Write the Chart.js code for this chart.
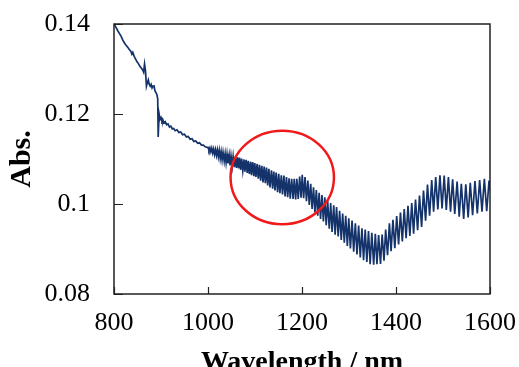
<!DOCTYPE html>
<html>
<head>
<meta charset="utf-8">
<title>Abs. vs Wavelength</title>
<script src="https://cdn.jsdelivr.net/npm/chart.js@4.4.0/dist/chart.umd.min.js"></script>
<style>
    body { margin: 0; background: #fff; }
    #chart-box { width: 519px; height: 367px; }
</style>
</head>
<body>
<div id="chart-box"><canvas id="absChart" width="519" height="367"></canvas></div>
<script>
// Spectrum: wavelength (nm) and absorbance
const wavelengths = [
    800, 804, 808, 812, 815, 818, 821, 824, 827, 830, 833, 836, 838, 840, 843, 846, 849, 852, 855, 858,
    861, 863, 865, 867, 869, 871, 873, 875, 877, 879, 881, 883, 885, 887, 889, 891, 893, 894, 896, 898,
    900, 902, 904, 906, 909, 912, 915, 918, 921, 924, 927, 930, 934, 938, 942, 946, 950, 954, 958, 962,
    966, 970, 974, 978, 982, 986, 990, 994, 998,
    1000, 1002, 1004, 1006, 1008, 1010, 1012, 1014, 1016, 1018, 1020, 1022, 1024, 1026, 1028, 1030, 1032,
    1034.5, 1036.5, 1038.5, 1040.5, 1042.5, 1045, 1047, 1049,
    1051.5, 1053.5, 1056, 1058, 1060.5, 1062.5, 1065, 1067, 1069.5, 1071.5, 1074,
    1076.5, 1078.5, 1081, 1083.5, 1085.5, 1088, 1090.5, 1092.5, 1095, 1097.5, 1099.5,
    1102, 1104.5, 1107, 1109.5, 1112, 1114.5, 1117, 1119.5, 1122, 1124.5,
    1127, 1129.5, 1132, 1135, 1137.5, 1140, 1142.5, 1145, 1148,
    1150.5, 1153, 1156, 1158.5, 1161.5, 1164, 1167, 1169.5, 1172.5,
    1175, 1178, 1181, 1183.5, 1186.5, 1189,
    1192, 1195, 1198, 1200.5, 1203.5, 1206.5, 1209.5,
    1212.5, 1215.5, 1218.5, 1221.5, 1224.5,
    1227.5, 1230.5, 1233.5, 1236.5, 1239.5, 1242.5, 1245.5, 1248.5,
    1251.5, 1254.5, 1258, 1261, 1264, 1267.5, 1270.5, 1273.5,
    1277, 1280, 1283.5, 1286.5, 1290, 1293, 1296.5, 1299.5,
    1303, 1306.5, 1310, 1313.5, 1317, 1320.5, 1324,
    1327.5, 1331, 1334.5, 1338, 1341.5, 1345,
    1348.5, 1352.5, 1356, 1359.5, 1363, 1367,
    1370.5, 1374.5, 1378, 1382, 1386, 1389.5, 1393.5, 1397.5,
    1401.5, 1405.5, 1409.5, 1413.5, 1417.5,
    1421.5, 1425.5, 1429.5, 1433.5, 1437.5,
    1441.5, 1446, 1450, 1454.5, 1458.5, 1463, 1467, 1471.5, 1476, 1480,
    1484.5, 1489, 1493.5, 1498, 1502.5, 1507, 1511.5,
    1516, 1520.5, 1525, 1530, 1534.5, 1539,
    1544, 1548.5, 1553.5, 1558, 1563,
    1568, 1573, 1578, 1583, 1588, 1593, 1598, 1600
];

const absorbance = [
    0.1400, 0.1393, 0.1385, 0.1378, 0.1373, 0.1366, 0.1360, 0.1355, 0.1351, 0.1347, 0.1343, 0.1339, 0.1333, 0.1337, 0.1328, 0.1322, 0.1316, 0.1312, 0.1306, 0.1302,
    0.1298, 0.1293, 0.1311, 0.1296, 0.1262, 0.1270, 0.1276, 0.1266, 0.1262, 0.1266, 0.1258, 0.1262, 0.1264, 0.1252, 0.1248, 0.1244, 0.1234, 0.1149, 0.1200, 0.1188,
    0.1192, 0.1184, 0.1187, 0.1180, 0.1183, 0.1176, 0.1178, 0.1171, 0.1173, 0.1167, 0.1168, 0.1163, 0.1165, 0.1159, 0.1160, 0.1154, 0.1155, 0.1149, 0.1150, 0.1144,
    0.1145, 0.1139, 0.1140, 0.1135, 0.1136, 0.1131, 0.1131, 0.1127, 0.1126,
    0.1126, 0.1119, 0.1125, 0.1116, 0.1124, 0.1113, 0.1122, 0.1110, 0.1121, 0.1108, 0.1120, 0.1105, 0.1119, 0.1101, 0.1116, 0.1098, 0.1115,
    0.1095, 0.1112, 0.1092, 0.1111, 0.1090, 0.1109, 0.1086, 0.1107,
    0.1084, 0.1106, 0.1082, 0.1105, 0.1080, 0.1104, 0.1079, 0.1103, 0.1076, 0.1101, 0.1074,
    0.1099, 0.1072, 0.1098, 0.1069, 0.1096, 0.1067, 0.1094, 0.1064, 0.1093, 0.1062, 0.1091,
    0.1060, 0.1089, 0.1056, 0.1087, 0.1052, 0.1085, 0.1048, 0.1083, 0.1046, 0.1081,
    0.1041, 0.1078, 0.1037, 0.1075, 0.1034, 0.1072, 0.1030, 0.1070, 0.1026,
    0.1067, 0.1024, 0.1064, 0.1021, 0.1063, 0.1017, 0.1060, 0.1015, 0.1057,
    0.1012, 0.1056, 0.1011, 0.1056, 0.1010, 0.1056,
    0.1011, 0.1061, 0.1014, 0.1065, 0.1013, 0.1060, 0.1006,
    0.1052, 0.0998, 0.1045, 0.0989, 0.1037,
    0.0981, 0.1031, 0.0974, 0.1025, 0.0967, 0.1020, 0.0961, 0.1015,
    0.0953, 0.1008, 0.0945, 0.1002, 0.0938, 0.0997, 0.0932, 0.0993,
    0.0928, 0.0985, 0.0920, 0.0979, 0.0914, 0.0974, 0.0907, 0.0968,
    0.0901, 0.0963, 0.0894, 0.0957, 0.0888, 0.0952, 0.0881,
    0.0946, 0.0875, 0.0943, 0.0871, 0.0940, 0.0866,
    0.0936, 0.0865, 0.0934, 0.0866, 0.0931, 0.0867,
    0.0932, 0.0874, 0.0943, 0.0886, 0.0957, 0.0895, 0.0965, 0.0902,
    0.0973, 0.0910, 0.0981, 0.0917, 0.0989,
    0.0924, 0.0996, 0.0929, 0.1002, 0.0934,
    0.1010, 0.0942, 0.1019, 0.0949, 0.1030, 0.0963, 0.1043, 0.0974, 0.1053, 0.0983,
    0.1060, 0.0988, 0.1064, 0.0990, 0.1063, 0.0987, 0.1060,
    0.0983, 0.1055, 0.0978, 0.1050, 0.0972, 0.1045,
    0.0967, 0.1044, 0.0970, 0.1047, 0.0975,
    0.1051, 0.0979, 0.1053, 0.0983, 0.1056, 0.0984, 0.1052, 0.1030
];

// Axis ticks and their labels
const xTicks = [800, 1000, 1200, 1400, 1600];
const xTickLabels = ['800', '1000', '1200', '1400', '1600'];
const yTicks = [0.08, 0.10, 0.12, 0.14];
const yTickLabels = ['0.08', '0.1', '0.12', '0.14'];

// Red ring marking the region of interest (data units)
const ringCenter = [1158, 0.1059];
const ringRadius = [110, 0.0104];

const serif = "'Liberation Serif', 'Times New Roman', serif";

// Plugin: box frame, inward tick marks and the red ring
const frameAndRing = {
    id: 'frameAndRing',
    afterDatasetsDraw(chart) {
        const { ctx, chartArea: a, scales: { x, y } } = chart;
        ctx.save();

        // inward tick marks
        ctx.strokeStyle = '#222';
        ctx.lineWidth = 1.2;
        ctx.beginPath();
        xTicks.forEach(v => {
            const px = Math.round(x.getPixelForValue(v)) + 0.5;
            ctx.moveTo(px, a.bottom);
            ctx.lineTo(px, a.bottom - 7);
        });
        yTicks.forEach(v => {
            const py = Math.round(y.getPixelForValue(v)) + 0.5;
            ctx.moveTo(a.left, py);
            ctx.lineTo(a.left + 9, py);
        });
        ctx.stroke();

        // frame
        ctx.lineWidth = 1.5;
        ctx.strokeStyle = '#222';
        ctx.strokeRect(a.left, a.top, a.right - a.left, a.bottom - a.top);

        // ring
        const cx = x.getPixelForValue(ringCenter[0]);
        const cy = y.getPixelForValue(ringCenter[1]);
        const rx = Math.abs(x.getPixelForValue(ringCenter[0] + ringRadius[0]) - cx);
        const ry = Math.abs(y.getPixelForValue(ringCenter[1] + ringRadius[1]) - cy);
        ctx.strokeStyle = '#f01a1a';
        ctx.lineWidth = 2.5;
        ctx.beginPath();
        ctx.ellipse(cx, cy, rx, ry, 0, 0, Math.PI * 2);
        ctx.stroke();

        ctx.restore();
    }
};

document.addEventListener('DOMContentLoaded', function() {
    const points = wavelengths.map((w, i) => ({ x: w, y: absorbance[i] }));

    new Chart(document.getElementById('absChart'), {
        type: 'line',
        data: {
            datasets: [{
                data: points,
                borderColor: '#14336b',
                borderWidth: 1.7,
                pointRadius: 0,
                tension: 0,
                fill: false
            }]
        },
        options: {
            responsive: false,
            animation: false,
            layout: { padding: { top: 24, right: 29, bottom: 0, left: 0 } },
            plugins: {
                legend: { display: false },
                tooltip: { enabled: false }
            },
            scales: {
                x: {
                    type: 'linear',
                    min: 800,
                    max: 1600,
                    afterBuildTicks: scale => { scale.ticks = xTicks.map(v => ({ value: v })); },
                    afterFit: scale => {
                        scale.height = 73;
                        scale.paddingLeft = 0;
                        scale.paddingRight = 0;
                    },
                    grid: { display: false },
                    border: { display: false },
                    ticks: {
                        padding: 6,
                        color: '#000',
                        font: { family: serif, size: 26 },
                        callback: (v, i) => xTickLabels[i]
                    },
                    title: {
                        display: true,
                        text: 'Wavelength / nm',
                        color: '#000',
                        font: { family: serif, size: 28, weight: 'bold', lineHeight: 1 },
                        padding: { top: 0, bottom: -10 }
                    }
                },
                y: {
                    type: 'linear',
                    min: 0.08,
                    max: 0.14,
                    afterBuildTicks: scale => { scale.ticks = yTicks.map(v => ({ value: v })); },
                    afterFit: scale => {
                        scale.width = 114;
                        scale.paddingTop = 0;
                        scale.paddingBottom = 0;
                    },
                    grid: { display: false },
                    border: { display: false },
                    ticks: {
                        padding: 16,
                        color: '#000',
                        font: { family: serif, size: 26 },
                        callback: (v, i) => yTickLabels[i]
                    },
                    title: {
                        display: true,
                        text: 'Abs.',
                        color: '#000',
                        font: { family: serif, size: 30, weight: 'bold', lineHeight: 1.2 },
                        padding: { top: 4, bottom: 0 }
                    }
                }
            }
        },
        plugins: [frameAndRing]
    });
});
</script>
</body>
</html>
